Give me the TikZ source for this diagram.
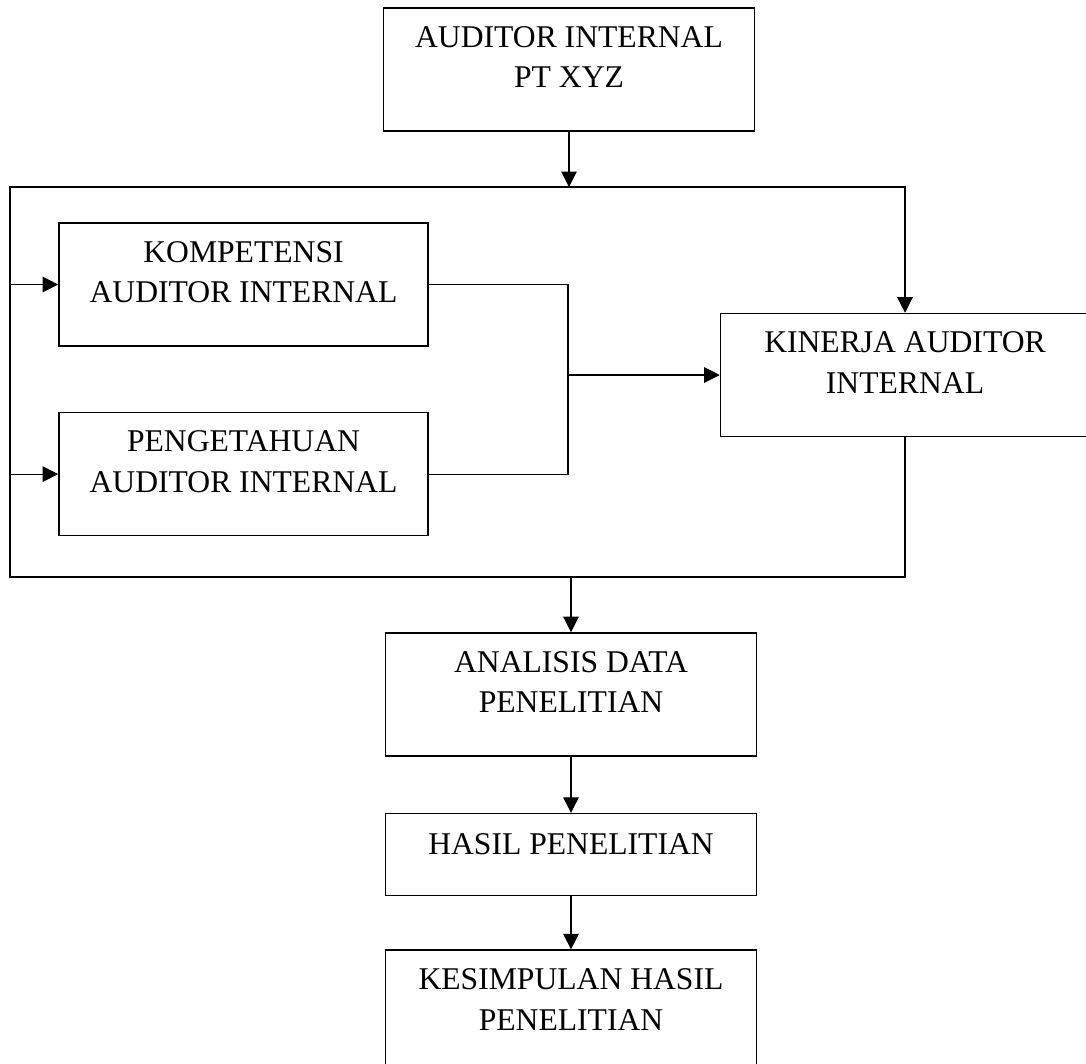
\documentclass[tikz,border=0pt]{standalone}
\usepackage{fontspec}
\setmainfont{Liberation Serif}
\usetikzlibrary{arrows.meta, positioning}

\begin{document}
\begin{tikzpicture}[
    node distance=1.3cm and 1cm,
    box/.style={
        rectangle,
        draw,
        line width=0.9pt,
        minimum height=2.46cm,
        minimum width=7.42cm,
        inner sep=0pt
    },
    txt/.style={
        align=center,
        inner sep=0pt,
        font=\fontsize{18pt}{23.3pt}\selectfont
    },
    flowLine/.style={line width=0.6pt},
    flowArrow/.style={-{Triangle[length=0.31cm, width=0.31cm]}, line width=0.6pt}
]
    \useasboundingbox (0,0) rectangle (21.72,-21.26);

    % Boxes
    \node[box] (top) at (11.38, -1.39) {};
    \node[box, minimum width=7.38cm] (komp) at (4.87, -5.69) {};
    \node[box, minimum width=7.38cm, below=1.3cm of komp] (peng) {};
    \node[box, minimum width=7.38cm] (kinerja) at (18.1, -7.5) {};
    \node[box] (analisis) at (11.42, -13.89) {};
    \node[box, minimum height=1.64cm, below=1.12cm of analisis] (hasil) {};
    \node[box, below=1.06cm of hasil] (kesimpulan) {};

    % Texts
    \node[txt, below=0.37cm of top.north] (topText) {AUDITOR INTERNAL\\PT XYZ};
    \node[txt, below=0.37cm of komp.north] (kompText) {KOMPETENSI\\AUDITOR INTERNAL};
    \node[txt, below=0.37cm of peng.north] (pengText) {PENGETAHUAN\\AUDITOR INTERNAL};
    \node[txt, below=0.37cm of kinerja.north] (kinerjaText) {KINERJA AUDITOR\\INTERNAL};
    \node[txt, below=0.37cm of analisis.north] (analisisText) {ANALISIS DATA\\PENELITIAN};
    \node[txt, below=0.41cm of hasil.north] (hasilText) {HASIL PENELITIAN};
    \node[txt, below=0.37cm of kesimpulan.north] (kesimpulanText) {KESIMPULAN HASIL\\PENELITIAN};

    % Frame corners and junction
    \coordinate (nw) at (0.2, -3.74);
    \coordinate (sw) at (0.2, -11.54);
    \coordinate (join) at (11.36, -7.5);

    % Connectors
    \draw[flowArrow] (top) -- (top |- nw);
    \draw[flowArrow] (kinerja.south) |- (sw) -- (nw) -| (kinerja.north);
    \draw[flowArrow] (nw |- komp) -- (komp);
    \draw[flowArrow] (nw |- peng) -- (peng);
    \draw[flowLine] (komp) -| (join) |- (peng);
    \draw[flowArrow] (join) -- (kinerja);
    \draw[flowArrow] (sw -| analisis) -- (analisis);
    \draw[flowArrow] (analisis) -- (hasil);
    \draw[flowArrow] (hasil) -- (kesimpulan);
\end{tikzpicture}
\end{document}
